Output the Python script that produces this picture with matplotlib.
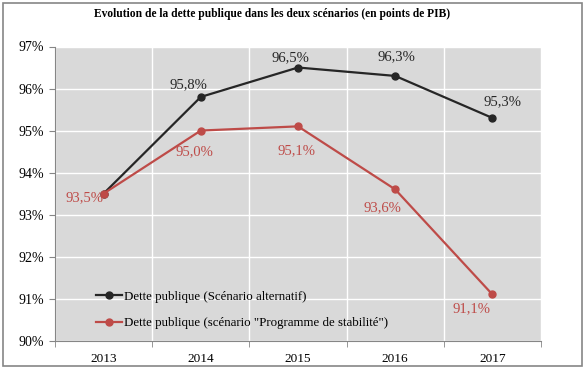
import matplotlib
matplotlib.use("Agg")
import matplotlib.pyplot as plt
import matplotlib.ticker as ticker
from matplotlib.patches import Rectangle

# Données (en points de PIB)
years = ["2013", "2014", "2015", "2016", "2017"]
alt_values = [93.5, 95.8, 96.5, 96.3, 95.3]
stab_values = [93.5, 95.0, 95.1, 93.6, 91.1]
alt_name = "Dette publique (Scénario alternatif)"
stab_name = "Dette publique (scénario \"Programme de stabilité\")"
title = "Evolution de la dette publique dans les deux scénarios (en points de PIB)"

black_color = "#262626"
red_color = "#be4b48"
axis_color = "#868686"

plt.rcParams["font.family"] = ["Liberation Serif", "DejaVu Serif"]

fig = plt.figure(figsize=(5.84, 3.68), dpi=100)
ax = fig.add_axes([55 / 584, 1 - 340.7 / 368, 486 / 584, 294.2 / 368])

# cadre extérieur
fig.patches.append(Rectangle((2.5 / 584, 2.5 / 368), 579 / 584, 363 / 368,
                             transform=fig.transFigure, fill=False,
                             edgecolor=axis_color, linewidth=1.2))

x = list(range(len(years)))
ax.set_facecolor("#d9d9d9")
ax.plot(x, alt_values, color=black_color, lw=1.6, marker="o", ms=5,
        label=alt_name, zorder=3)
ax.plot(x, stab_values, color=red_color, lw=1.6, marker="o", ms=5,
        label=stab_name, zorder=4)

# étiquettes des points (décalages en pixels)
alt_offsets = [None, (-12, 12), (-8, 10), (1, 19), (10, 16)]
stab_offsets = [(-19, -4), (-6, -21), (-2, -24), (-13, -18), (-21, -14)]
for i, (v, off) in enumerate(zip(alt_values, alt_offsets)):
    if off is None:
        continue
    ax.annotate(f"{v:.1f}%".replace(".", ","), (i, v), xytext=off,
                textcoords="offset pixels", ha="center", va="center",
                fontsize=10.5, color=black_color, zorder=5)
for i, (v, off) in enumerate(zip(stab_values, stab_offsets)):
    ax.annotate(f"{v:.1f}%".replace(".", ","), (i, v), xytext=off,
                textcoords="offset pixels", ha="center", va="center",
                fontsize=10.5, color=red_color, zorder=5)

ax.set_xlim(-0.5, len(years) - 0.5)
ax.set_ylim(90, 97)
ax.set_xticks(x)
ax.set_xticklabels(years)
ax.set_xticks([i + 0.5 for i in range(-1, len(years))], minor=True)
ax.tick_params(axis="x", which="major", length=0, labelsize=9.5, pad=9)
ax.tick_params(axis="x", which="minor", length=4, color=axis_color)
ax.yaxis.set_major_locator(ticker.MultipleLocator(1))
ax.yaxis.set_major_formatter(ticker.FormatStrFormatter("%d%%"))
ax.tick_params(axis="y", length=4, color=axis_color, labelsize=10, pad=4)
ax.grid(True, axis="y", which="major", color="white", lw=1)
ax.grid(True, axis="x", which="minor", color="white", lw=1)
ax.set_axisbelow(True)
for side in ("top", "right"):
    ax.spines[side].set_visible(False)
for side in ("left", "bottom"):
    ax.spines[side].set_color(axis_color)

ax.legend(loc="lower left", bbox_to_anchor=(0.06, 0.0), frameon=False,
          fontsize=9.3, handlelength=2.0, handletextpad=0.15, labelspacing=1.1)

fig.text(0.466, 1 - 14 / 368, title, ha="center", va="center",
         fontsize=8.3, fontweight="bold")

fig.savefig("out.png", dpi=100)
